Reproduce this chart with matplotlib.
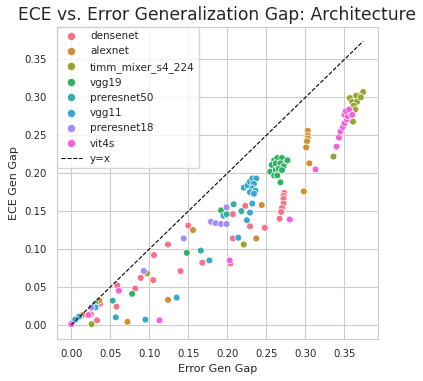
import numpy as np
import pandas as pd
import matplotlib
matplotlib.use("Agg")
import matplotlib.pyplot as plt
import seaborn as sns

# values (Error Gen Gap, ECE Gen Gap)
densenet_x = [0.150, 0.223, 0.207, 0.229, 0.248, 0.273, 0.272, 0.272, 0.272, 0.270, 0.269, 0.267,
              0.207, 0.124, 0.106, 0.168, 0.204, 0.140, 0.089, 0.105, 0.082, 0.059, 0.058, 0.037,
              0.025, 0.033, 0.003]
densenet_y = [0.131, 0.157, 0.146, 0.130, 0.128, 0.174, 0.170, 0.166, 0.160, 0.154, 0.149, 0.140,
              0.114, 0.106, 0.092, 0.082, 0.081, 0.071, 0.062, 0.059, 0.048, 0.052, 0.024, 0.028,
              0.014, 0.006, 0.005]

alexnet_x = [0.303, 0.303, 0.303, 0.302, 0.301, 0.305, 0.298, 0.244, 0.156, 0.237, 0.124, 0.036,
             0.072, 0.014]
alexnet_y = [0.256, 0.250, 0.246, 0.242, 0.234, 0.213, 0.176, 0.158, 0.125, 0.114, 0.033, 0.032,
             0.004, 0.013]

mixer_x = [0.374, 0.368, 0.365, 0.357, 0.360, 0.366, 0.362, 0.364, 0.361, 0.336, 0.221, 0.097,
           0.026, 0.371]
mixer_y = [0.307, 0.302, 0.302, 0.299, 0.294, 0.294, 0.289, 0.284, 0.268, 0.222, 0.106, 0.068,
           0.001, 0.300]

vgg19_x = [0.260, 0.264, 0.270, 0.274, 0.257, 0.262, 0.268, 0.272, 0.255, 0.262, 0.266, 0.270,
           0.260, 0.264, 0.268, 0.277, 0.192, 0.148, 0.078, 0.031]
vgg19_y = [0.217, 0.220, 0.220, 0.214, 0.211, 0.213, 0.213, 0.209, 0.202, 0.204, 0.206, 0.204,
           0.197, 0.197, 0.188, 0.217, 0.151, 0.095, 0.041, 0.028]

preresnet50_x = [0.208, 0.218, 0.195, 0.199, 0.166, 0.053, 0.029, 0.007, 0.002]
preresnet50_y = [0.159, 0.150, 0.144, 0.146, 0.098, 0.032, 0.025, 0.008, 0.004]

vgg11_x = [0.221, 0.226, 0.229, 0.232, 0.237, 0.234, 0.232, 0.236, 0.229, 0.234, 0.232, 0.229,
           0.225, 0.214, 0.177, 0.135, 0.095, 0.057, 0.031, 0.010, 0.005]
vgg11_y = [0.181, 0.184, 0.189, 0.193, 0.193, 0.186, 0.180, 0.177, 0.175, 0.173, 0.160, 0.148,
           0.138, 0.115, 0.085, 0.036, 0.007, 0.010, 0.023, 0.011, 0.007]

preresnet18_x = [0.199, 0.179, 0.185, 0.192, 0.199, 0.144, 0.093, 0.026]
preresnet18_y = [0.155, 0.136, 0.134, 0.133, 0.133, 0.114, 0.071, 0.023]

vit4s_x = [0.343, 0.345, 0.348, 0.350, 0.353, 0.350, 0.354, 0.358, 0.352, 0.356, 0.360, 0.340,
           0.313, 0.280, 0.203, 0.113, 0.061, 0.022, 0.000]
vit4s_y = [0.247, 0.255, 0.261, 0.266, 0.271, 0.277, 0.275, 0.280, 0.282, 0.284, 0.277, 0.235,
           0.205, 0.139, 0.085, 0.006, 0.045, 0.013, 0.001]

archs = ["densenet", "alexnet", "timm_mixer_s4_224", "vgg19", "preresnet50", "vgg11",
         "preresnet18", "vit4s"]
xs = [densenet_x, alexnet_x, mixer_x, vgg19_x, preresnet50_x, vgg11_x, preresnet18_x, vit4s_x]
ys = [densenet_y, alexnet_y, mixer_y, vgg19_y, preresnet50_y, vgg11_y, preresnet18_y, vit4s_y]

df = pd.concat(
    [pd.DataFrame({"Error Gen Gap": x, "ECE Gen Gap": y, "arch": a}) for a, x, y in zip(archs, xs, ys)],
    ignore_index=True,
)

sns.set_style("whitegrid")
plt.rcParams["font.family"] = ["DejaVu Sans"]

fig = plt.figure(figsize=(4.23, 3.81), dpi=100)
ax = fig.add_axes([0.134, 0.110, 0.759, 0.819])

sns.scatterplot(data=df, x="Error Gen Gap", y="ECE Gen Gap", hue="arch", hue_order=archs,
                palette="husl", s=24, linewidth=0.5, edgecolor="white", ax=ax)

lim = max(df["Error Gen Gap"].max(), df["ECE Gen Gap"].max())
ax.plot([0, lim], [0, lim], "k--", linewidth=0.8, label="y=x")

ax.set_xticks(np.arange(0, 0.36, 0.05))
ax.set_yticks(np.arange(0, 0.36, 0.05))
ax.tick_params(labelsize=7.3)
ax.set_xlabel("Error Gen Gap", fontsize=8)
ax.set_ylabel("ECE Gen Gap", fontsize=8)
ax.set_title("ECE vs. Error Generalization Gap: Architecture", fontsize=12.3, pad=5)
ax.legend(loc="upper left", fontsize=7.5, borderaxespad=0, title=None, markerscale=1.2)

plt.savefig("out.png", dpi=100)
